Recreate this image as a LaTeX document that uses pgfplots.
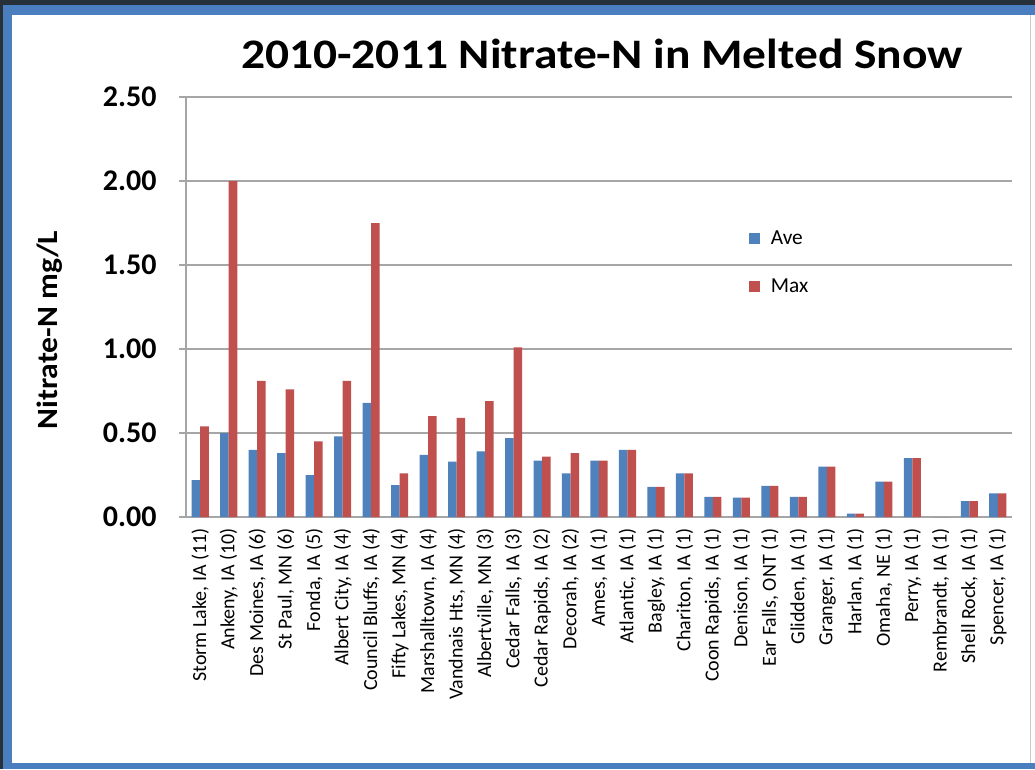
\documentclass[border=0pt]{standalone}
\usepackage{fontspec}
\setmainfont{Carlito}
\usepackage{pgfplots}
\pgfplotsset{compat=1.18}
\definecolor{exblue}{HTML}{4F81BD}
\definecolor{exred}{HTML}{C0504D}
\definecolor{frameblue}{HTML}{4A7EBF}
\definecolor{darkstrip}{HTML}{27313A}
\definecolor{gridgray}{HTML}{A6A6A6}
\begin{document}
\begin{tikzpicture}
\begin{scope}[x=0.75pt,y=-0.75pt]
\fill[darkstrip] (0,0) rectangle (1035,769);
\fill[frameblue] (3,5) rectangle (1035,769);
\fill[white] (12,15) rectangle (1035,763);
\draw[gray!40, line width=0.75pt] (1030,15) -- (1030,763);
\useasboundingbox (0,0) rectangle (1035,769);
\node[font=\fontsize{31.5}{32}\selectfont\bfseries, anchor=base, xscale=1.13] at (602,68) {2010-2011 Nitrate-N in Melted Snow};
\node[font=\fontsize{22}{22}\selectfont\bfseries, rotate=90, xscale=1.08] at (50,330) {Nitrate-N mg/L};
\end{scope}
\begin{axis}[
  at={(139.5pt,-387.75pt)}, anchor=south west,
  width=619.5pt, height=315pt, scale only axis,
  xmin=-0.5, xmax=28.5, ymin=0, ymax=2.5,
  ytick={0,0.5,1,1.5,2,2.5},
  xtick={0,...,28},
  xticklabels={{Storm Lake, IA (11)},{Ankeny, IA (10)},{Des Moines, IA (6)},{St Paul, MN (6)},{Fonda, IA (5)},{Albert City, IA (4)},{Council Bluffs, IA (4)},{Fifty Lakes, MN (4)},{Marshalltown, IA (4)},{Vandnais Hts, MN (4)},{Albertville, MN (3)},{Cedar Falls, IA (3)},{Cedar Rapids, IA (2)},{Decorah, IA (2)},{Ames, IA (1)},{Atlantic, IA (1)},{Bagley, IA (1)},{Chariton, IA (1)},{Coon Rapids, IA (1)},{Denison, IA (1)},{Ear Falls, ONT (1)},{Glidden, IA (1)},{Granger, IA (1)},{Harlan, IA (1)},{Omaha, NE (1)},{Perry, IA (1)},{Rembrandt, IA (1)},{Shell Rock, IA (1)},{Spencer, IA (1)}},
  ybar=0pt, bar width=6.4pt,
  ymajorgrids, grid style={gridgray, line width=0.9pt},
  axis x line*=bottom, axis y line*=left,
  axis line style={gridgray, line width=0.9pt, -},
  x tick style={draw=none}, y tick style={gridgray, line width=0.9pt},
  tick align=outside, major tick length=5pt,
  /pgf/number format/assume math mode=true,
  y tick label style={font=\fontsize{22.5}{22.5}\selectfont\bfseries, xshift=-13.5pt,
    /pgf/number format/fixed, /pgf/number format/fixed zerofill, /pgf/number format/precision=2},
  x tick label style={rotate=90, anchor=east, font=\fontsize{15}{15}\selectfont},
  legend style={at={(0.677,0.695)}, anchor=north west, draw=none, fill=none,
    font=\fontsize{16}{16}\selectfont, row sep=20pt,
    /tikz/every odd column/.append style={column sep=6pt}},
  legend cell align=left,
]
\addplot[fill=exblue, draw=none, legend image code/.code={\fill[exblue] (0pt,-4pt) rectangle (8pt,4pt);}] coordinates {
(0,0.22) (1,0.50) (2,0.40) (3,0.38) (4,0.25) (5,0.48) (6,0.68) (7,0.19) (8,0.37) (9,0.33)
(10,0.39) (11,0.47) (12,0.335) (13,0.26) (14,0.335) (15,0.40) (16,0.18) (17,0.26) (18,0.12) (19,0.115)
(20,0.185) (21,0.12) (22,0.30) (23,0.02) (24,0.21) (25,0.35) (26,0) (27,0.095) (28,0.14)};
\addplot[fill=exred, draw=none, legend image code/.code={\fill[exred] (0pt,-4pt) rectangle (8pt,4pt);}] coordinates {
(0,0.54) (1,2.00) (2,0.81) (3,0.76) (4,0.45) (5,0.81) (6,1.75) (7,0.26) (8,0.60) (9,0.59)
(10,0.69) (11,1.01) (12,0.36) (13,0.38) (14,0.335) (15,0.40) (16,0.18) (17,0.26) (18,0.12) (19,0.115)
(20,0.185) (21,0.12) (22,0.30) (23,0.02) (24,0.21) (25,0.35) (26,0) (27,0.095) (28,0.14)};
\legend{Ave, Max}
\end{axis}
\end{tikzpicture}
\end{document}
